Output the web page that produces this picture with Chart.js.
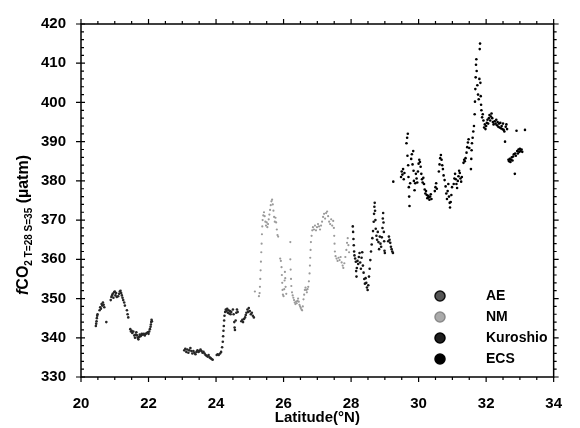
<!DOCTYPE html>
<html>
<head>
<meta charset="utf-8">
<script src="https://cdn.jsdelivr.net/npm/chart.js@4.4.1/dist/chart.umd.min.js"></script>
<style>
  html, body { margin: 0; padding: 0; background: #fff; }
  #wrap { width: 580px; height: 428px; }
</style>
</head>
<body>
<div id="wrap"><canvas id="chart" width="580" height="428"></canvas></div>
<script>
// latitude (°N), fCO2 (uatm)
const aePoints = [
  [20.44,343],[20.45,343.6],[20.46,344.2],[20.47,345],[20.48,345.6],[20.49,346],
  [20.55,347],[20.57,347.8],[20.59,347.4],[20.61,348.6],[20.63,348.2],[20.65,349],[20.67,348.4],[20.69,347.8],
  [20.75,344],
  [20.88,349.6],[20.9,350.4],[20.92,350.8],[20.94,351.2],[20.96,350.2],[20.98,351.6],[21.0,351.8],[21.02,350.8],[21.04,351.4],[21.06,350.4],
  [21.1,350.6],[21.13,351.2],[21.15,351.8],[21.17,352],[21.19,351.4],[21.21,350.8],[21.23,350.2],[21.25,349.6],[21.28,349],[21.3,348.2],
  [21.36,347],[21.38,346],[21.4,345.2],
  [21.46,342.2],[21.48,341.6],[21.5,341.8],[21.52,341.2],[21.55,341.6],
  [21.58,340.6],[21.6,340],[21.62,340.8],[21.64,341.4],[21.66,340.6],[21.68,340],[21.7,339.6],[21.72,340.2],[21.74,340.8],
  [21.76,340.4],[21.78,340.6],[21.8,341],[21.83,340.8],[21.86,341],[21.89,340.6],[21.92,341],[21.95,341.2],[21.98,341.4],
  [22.0,341],[22.02,341.6],[22.04,342.2],[22.06,342.8],[22.07,343.4],[22.08,344],[22.09,344.6],[22.1,344.2],
  [23.06,336.8],[23.09,337.2],[23.12,336.4],[23.15,337],[23.18,336.2],[23.21,336.8],[23.24,337.4],[23.27,336.6],[23.3,336],
  [23.33,336.6],[23.36,336.2],[23.39,335.8],[23.42,336.4],[23.45,336.8],[23.48,336.4],[23.51,336.6],[23.54,337],[23.57,336.6],
  [23.6,336.2],[23.63,336.4],[23.66,336],[23.69,335.6],[23.72,335.4],[23.75,335.2],[23.78,335.6],[23.81,335],[23.84,334.8],
  [23.87,334.6],[23.9,334.4],[24.02,335.6],[24.05,335.8],[24.08,335.6],[24.12,336],[24.15,336.4],[24.18,337.6],[24.2,339],
  [24.21,340.4],[24.22,341.8],[24.23,343],[24.24,344.4],[24.25,345.6],[24.27,346.6],[24.29,347.2],[24.31,346.8],[24.33,347.4],
  [24.35,346.4],[24.37,347],[24.39,346.2],[24.41,346.8],[24.43,346],[24.45,346.6],[24.5,347.2],[24.52,346],[24.54,344],
  [24.55,342.6],[24.56,342],[24.58,344.4],[24.6,346.4],[24.62,347.2],[24.64,346.6],[24.75,344.2],[24.78,344.6],[24.8,344],
  [24.83,344.8],[24.86,345.2],[24.88,345.8],[24.9,346.4],[24.93,347.2],[24.95,346.6],[24.97,347.6],[25.0,346.8],[25.03,346],
  [25.06,346.4],[25.09,345.6],[25.12,345.2]
];

const nmPoints = [
  [25.15,351.8],[25.27,350.6],[25.29,351.4],[25.3,353],[25.31,355],[25.32,357.2],[25.33,359.4],[25.34,361.8],[25.35,364],
  [25.36,366.4],[25.37,368.4],[25.38,370],[25.4,371.2],[25.42,372],[25.44,371],[25.46,369.6],[25.48,368.6],[25.5,369.4],
  [25.52,368.2],[25.54,369],[25.56,370.2],[25.58,371.4],[25.6,372.6],[25.62,373.8],[25.64,374.8],[25.66,375.2],[25.68,374],
  [25.7,372.4],[25.72,370.8],[25.74,369.6],[25.76,370.6],[25.78,369.4],[25.8,367.6],[25.82,366.2],[25.84,365.8],[25.9,360.2],
  [25.92,359.6],[25.94,358],[25.95,356],[25.96,354],[25.97,352.2],[25.98,351],[26.0,350.6],[26.02,352.4],[26.03,354.6],
  [26.04,356.8],[26.05,355.2],[26.06,353],[26.08,351.2],[26.2,364.4],[26.2,360],[26.21,357.4],[26.22,355],[26.23,353.2],
  [26.25,351.6],[26.27,350.8],[26.29,350.2],[26.31,349.6],[26.33,349],[26.35,348.6],[26.37,349.2],[26.39,348.8],[26.41,349.4],
  [26.43,350],[26.45,349.2],[26.47,348.4],[26.49,348],[26.51,347.6],[26.53,347.2],[26.55,347],[26.57,348],[26.59,349.8],
  [26.61,351],[26.63,352.2],[26.65,352.8],[26.67,352.2],[26.69,351.6],[26.71,352.4],[26.73,353],[26.75,354.4],[26.77,356.4],
  [26.78,358.4],[26.79,360.4],[26.8,362.4],[26.81,364.4],[26.83,366],[26.85,367.4],[26.87,368.2],[26.9,367.6],[26.93,368.6],
  [26.96,367.4],[26.99,368.2],[27.02,369],[27.05,368.4],[27.08,367.6],[27.11,368.6],[27.14,369.6],[27.17,370.8],[27.2,371.6],
  [27.23,370.4],[27.26,371.8],[27.29,372.2],[27.32,371],[27.35,369.6],[27.38,369],[27.41,370.2],[27.44,368.6],[27.47,369.8],
  [27.49,368],[27.5,366],[27.51,364],[27.52,362],[27.54,360.8],[27.57,360.2],[27.6,359.6],[27.63,360.4],[27.66,359.8],
  [27.69,360.6],[27.72,359.2],[27.75,358.4],[27.77,357.8],[27.8,359],[27.83,360.6],[27.86,362.4],[27.88,364.2],[27.9,365.4],
  [27.92,363.6],[27.94,361.8]
];

const kuroshioPoints = [
  [28.05,368.4],[28.06,367],[28.07,365.2],[28.08,363.6],[28.09,362],[28.1,361],[28.12,360.2],[28.14,359.4],[28.15,357],
  [28.16,355.6],[28.17,357.8],[28.19,359.6],[28.21,358.8],[28.23,360.6],[28.25,361.6],[28.27,359.2],[28.29,357.6],[28.31,360.4],
  [28.33,361.8],[28.35,358.4],[28.37,356.6],[28.39,355],[28.41,353.8],[28.43,355.2],[28.45,354],[28.47,352.8],[28.49,352.2],
  [28.51,353.4],[28.53,355.6],[28.55,357.6],[28.57,359.8],[28.59,362],[28.61,363.8],[28.63,365.4],[28.65,367.2],[28.67,369.6],
  [28.68,371.6],[28.69,373.4],[28.7,374.4],[28.71,372.4],[28.72,370],[28.73,367.8],[28.75,366],[28.77,365],[28.79,367],
  [28.81,364.4],[28.83,362.6],[28.85,365.8],[28.87,364],[28.89,363.2],[28.91,365.6],[28.93,368],[28.94,370.4],[28.95,371.8],
  [28.96,369.4],[28.97,367],[28.98,364.6],[28.99,362.2],[29.0,361.6],[29.1,364.6],[29.12,365.8],[29.14,365],[29.16,364.2],
  [29.18,363.2],[29.2,362.6],[29.22,362],[29.24,361.6]
];

const ecsPoints = [
  [29.25,379.8],[29.48,381],[29.5,382.4],[29.52,381.6],[29.54,383],[29.56,380.4],[29.58,382],[29.64,389.6],[29.66,391],
  [29.68,392],[29.67,386.4],[29.69,384],[29.7,381],[29.71,378.4],[29.72,376],[29.73,373.6],[29.75,379.4],[29.78,385.6],
  [29.8,386.8],[29.82,384.2],[29.84,387.6],[29.85,382.6],[29.86,380],[29.88,377.6],[29.9,379.4],[29.92,381.8],[29.94,380.6],
  [29.96,379.6],[29.98,382.4],[30.0,384.4],[30.02,385.4],[30.04,384.8],[30.06,383.6],[30.08,381.8],[30.1,380.4],[30.12,379.6],
  [30.14,380.8],[30.16,379.2],[30.18,377.8],[30.2,376.8],[30.22,377.4],[30.24,376.4],[30.26,375.6],[30.28,376.2],[30.3,375.8],
  [30.32,375.2],[30.34,376],[30.36,376.6],[30.38,375.4],[30.48,377.4],[30.5,378.4],[30.52,379.4],[30.54,378],[30.6,382.4],
  [30.62,384.2],[30.64,385.8],[30.66,386.6],[30.68,385.4],[30.7,384],[30.72,383],[30.74,381.4],[30.77,380.2],[30.8,378.6],
  [30.82,376.8],[30.84,375.4],[30.86,377.4],[30.88,379.2],[30.9,376],[30.92,374.4],[30.93,373.2],[30.95,374.6],[30.97,376.4],
  [30.99,378.4],[31.04,379.2],[31.06,380.6],[31.08,381.8],[31.1,380.4],[31.12,379.2],[31.14,378.2],[31.16,380],[31.18,381.2],
  [31.2,382.6],[31.22,382],[31.24,380.6],[31.26,379.8],[31.28,381],[31.33,384.6],[31.35,385.4],[31.37,385],[31.39,385.8],
  [31.42,387.2],[31.44,388.6],[31.46,389.8],[31.48,390.6],[31.5,388.4],[31.55,383],[31.56,385.6],[31.57,387.8],[31.58,389.6],
  [31.6,391],[31.62,392.6],[31.64,394],[31.66,397],[31.67,400.2],[31.68,403.4],[31.69,406.4],[31.7,409.6],[31.71,411],
  [31.72,408],[31.74,404.4],[31.76,402],[31.78,400.8],[31.8,406],[31.81,413.6],[31.82,415],[31.83,405],[31.84,401.6],
  [31.85,399.4],[31.86,398],[31.88,396.2],[31.9,397],[31.92,395.4],[31.94,393.6],[31.96,394.4],[31.98,393.2],[32.0,394],
  [32.02,394.8],[32.04,395.6],[32.06,394.6],[32.08,396],[32.1,396.8],[32.12,395.4],[32.14,396.4],[32.16,397.2],[32.18,396],
  [32.2,395],[32.22,394.4],[32.25,395.2],[32.28,394.6],[32.3,395.6],[32.32,394.2],[32.34,395],[32.36,393.8],[32.38,394.6],
  [32.4,393.6],[32.42,394.8],[32.44,393.4],[32.46,394],[32.48,393.2],[32.5,394.6],[32.52,393],[32.54,392.6],[32.56,390],
  [32.58,393.8],[32.6,394.4],[32.62,393.2],[32.66,385.4],[32.68,385],[32.7,385.6],[32.72,384.8],[32.74,385.4],[32.76,386],
  [32.78,385.2],[32.8,386.2],[32.82,386.8],[32.85,381.8],[32.86,387],[32.88,386.4],[32.9,392.8],[32.92,387.6],[32.94,387],
  [32.96,388],[32.98,387.4],[33.0,388.2],[33.02,387.6],[33.05,388],[33.07,387.4],[33.15,393]
];

const seriesNames = ['AE', 'NM', 'Kuroshio', 'ECS'];
const xTickValues = [20, 22, 24, 26, 28, 30, 32, 34];
const yTickValues = [330, 340, 350, 360, 370, 380, 390, 400, 410, 420];

const FONT = "'Liberation Sans', Arial, sans-serif";

function toXY(arr) {
  return arr.map(p => ({ x: p[0], y: p[1] }));
}

// frame, minor/major ticks, y title and legend
const decorPlugin = {
  id: 'decor',
  afterDraw(chart) {
    const ctx = chart.ctx;
    const a = chart.chartArea;
    const xs = chart.scales.x, ys = chart.scales.y;
    ctx.save();
    ctx.strokeStyle = '#000';
    ctx.lineWidth = 1.5;
    ctx.strokeRect(a.left, a.top, a.right - a.left, a.bottom - a.top);

    ctx.lineWidth = 1.2;
    ctx.beginPath();
    for (let v = 20; v <= 34.001; v += 0.5) {
      const px = xs.getPixelForValue(v);
      const major = Math.abs(v / 2 - Math.round(v / 2)) < 1e-6;
      const len = major ? 5 : 3;
      ctx.moveTo(px, a.bottom); ctx.lineTo(px, a.bottom + len);
      ctx.moveTo(px, a.top); ctx.lineTo(px, a.top - len);
    }
    for (let v = 330; v <= 420.001; v += 2) {
      const py = ys.getPixelForValue(v);
      const major = v % 10 === 0;
      if (major) {
        ctx.moveTo(a.left - 5, py); ctx.lineTo(a.left + 4, py);
        ctx.moveTo(a.right, py); ctx.lineTo(a.right + 5, py);
      } else {
        ctx.moveTo(a.left, py); ctx.lineTo(a.left + 3, py);
        ctx.moveTo(a.right, py); ctx.lineTo(a.right + 3, py);
      }
    }
    ctx.stroke();

    // y axis title with subscript
    ctx.save();
    ctx.translate(24, 225);
    ctx.rotate(-Math.PI / 2);
    ctx.fillStyle = '#000';
    ctx.textBaseline = 'middle';
    const parts = [
      { t: 'f', f: 'italic bold 16px ' + FONT, dy: 0 },
      { t: 'CO', f: 'bold 16px ' + FONT, dy: 0 },
      { t: '2 T=28 S=35', f: 'bold 10px ' + FONT, dy: 5 },
      { t: ' (\u00b5atm)', f: 'bold 16px ' + FONT, dy: 0 }
    ];
    let total = 0;
    parts.forEach(p => { ctx.font = p.f; p.w = ctx.measureText(p.t).width; total += p.w; });
    let cx = -total / 2;
    parts.forEach(p => { ctx.font = p.f; ctx.fillText(p.t, cx, p.dy); cx += p.w; });
    ctx.restore();

    // legend
    const rows = [296, 317, 338, 359];
    const fills = ['#555', '#aaa', '#1e1e1e', '#000'];
    const strokes = ['#111', '#8a8a8a', '#000', '#000'];
    ctx.font = 'bold 14px ' + FONT;
    ctx.textBaseline = 'middle';
    seriesNames.forEach((n, i) => {
      ctx.beginPath();
      ctx.arc(440, rows[i], 5, 0, Math.PI * 2);
      ctx.fillStyle = fills[i];
      ctx.fill();
      ctx.lineWidth = 1.5;
      ctx.strokeStyle = strokes[i];
      ctx.stroke();
      ctx.fillStyle = '#000';
      ctx.fillText(n, 486, rows[i]);
    });
    ctx.restore();
  }
};

const ctx = document.getElementById('chart').getContext('2d');
const pointSets = [aePoints, nmPoints, kuroshioPoints, ecsPoints];
const pointColors = ['#262626', '#9a9a9a', '#141414', '#000'];
const pointSizes = [1.3, 1.1, 1.3, 1.3];

new Chart(ctx, {
  type: 'scatter',
  data: {
    datasets: pointSets.map((pts, i) => ({
      label: seriesNames[i],
      data: toXY(pts),
      backgroundColor: pointColors[i],
      borderWidth: 0,
      pointRadius: pointSizes[i]
    }))
  },
  options: {
    responsive: false,
    animation: false,
    devicePixelRatio: 1,
    layout: { padding: { left: 0, right: 8, top: 14, bottom: 0 } },
    plugins: { legend: { display: false }, tooltip: { enabled: false } },
    scales: {
      x: {
        type: 'linear', min: 20, max: 34,
        afterBuildTicks: s => { s.ticks = xTickValues.map(v => ({ value: v })); },
        afterFit: s => { s.height = 51; },
        grid: { display: false, drawTicks: false },
        border: { display: false },
        ticks: { color: '#000', font: { family: FONT, size: 15, weight: 'bold' }, padding: 18, maxRotation: 0, autoSkip: false },
        title: { display: true, text: 'Latitude(\u00b0N)', color: '#000', font: { family: FONT, size: 15, weight: 'bold' }, padding: { top: 0, bottom: 1 } }
      },
      y: {
        type: 'linear', min: 330, max: 420,
        afterBuildTicks: s => { s.ticks = yTickValues.map(v => ({ value: v })); },
        afterFit: s => { s.width = 81; },
        grid: { display: false, drawTicks: false },
        border: { display: false },
        ticks: { color: '#000', font: { family: FONT, size: 15, weight: 'bold' }, padding: 15 }
      }
    }
  },
  plugins: [decorPlugin]
});
</script>
</body>
</html>
